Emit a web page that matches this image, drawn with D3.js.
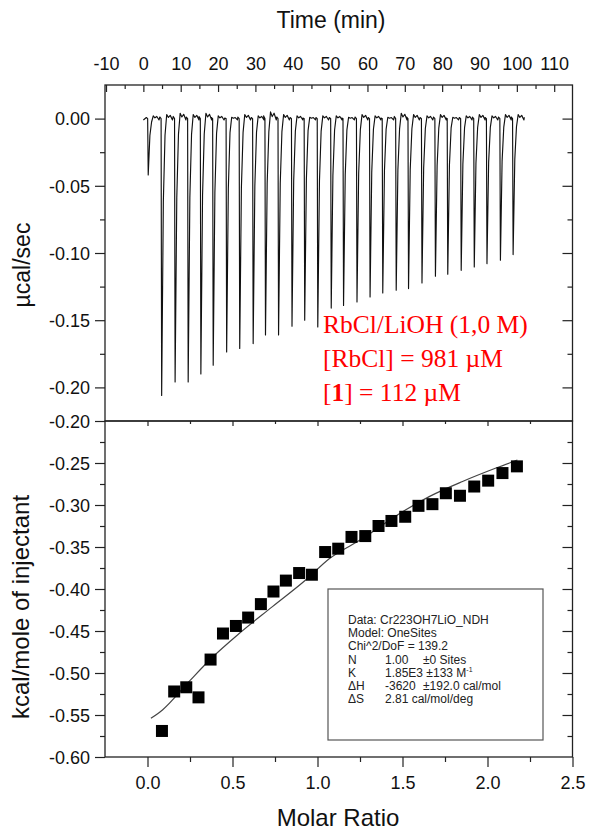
<!DOCTYPE html>
<html>
<head>
<meta charset="utf-8">
<script src="https://cdn.jsdelivr.net/npm/d3@7/dist/d3.min.js"></script>
<style>
  html, body { margin: 0; padding: 0; background: #fff; }
  svg { display: block; }
  text { font-family: "Liberation Sans", Arial, sans-serif; }
</style>
</head>
<body>
<svg id="chart" width="589" height="832"></svg>
<script>
// ---------------- DATA ----------------
// Thermogram: injection times (min) and peak heat-rate minima (µcal/sec)
const injTimes = [1.3, 4.9, 8.5, 12.0, 15.4, 18.7, 22.3, 25.8, 29.4, 32.7, 36.2, 39.8, 43.2, 46.7,
  50.3, 53.6, 57.2, 60.7, 64.1, 67.7, 71.0, 74.6, 78.2, 81.5, 85.1, 88.6, 92.0, 95.6, 99.0];
const peakVals = [-0.042, -0.206, -0.196, -0.196, -0.190, -0.1835, -0.1736, -0.171, -0.1674, -0.161,
  -0.161, -0.1545, -0.150, -0.155, -0.141, -0.139, -0.1364, -0.1327, -0.1297, -0.1277, -0.1265,
  -0.1223, -0.1173, -0.1158, -0.1129, -0.1104, -0.1079, -0.1054, -0.1012];
// small baseline blips after each injection (µcal/sec)
const baseBumps = [0.002, 0.003, 0.004, 0.003, 0.004, 0.002, 0.001, 0.003, 0.002, 0.005, 0.003, 0.002,
  0.001, 0.002, 0.002, 0.001, 0.003, 0.002, 0.001, 0.004, 0.003, 0.002, 0.003, 0.001, 0.002, 0.003,
  0.002, 0.003, 0.003];
const traceStart = 0, traceEnd = 102;

// Integrated heats: molar ratio and kcal/mole of injectant
const molarRatio = [0.085, 0.157, 0.228, 0.300, 0.371, 0.444, 0.520, 0.592, 0.667, 0.741, 0.814, 0.892,
  0.967, 1.045, 1.122, 1.200, 1.281, 1.359, 1.435, 1.516, 1.594, 1.676, 1.755, 1.838, 1.922, 2.004,
  2.088, 2.173];
const heatVals = [-0.569, -0.522, -0.517, -0.529, -0.484, -0.453, -0.444, -0.434, -0.418, -0.403, -0.390,
  -0.381, -0.383, -0.356, -0.352, -0.338, -0.337, -0.325, -0.319, -0.314, -0.301, -0.299, -0.286,
  -0.289, -0.278, -0.271, -0.262, -0.254];

// Fit curve
const fitRatio = [0.02, 0.088, 0.245, 0.373, 0.539, 0.735, 0.932, 1.069, 1.265, 1.461, 1.657, 1.853, 2.05, 2.176];
const fitVals  = [-0.554, -0.544, -0.510, -0.483, -0.453, -0.421, -0.389, -0.364, -0.340, -0.313, -0.290, -0.272, -0.256, -0.2465];

// Ticks
const timeTicks = [-10, 0, 10, 20, 30, 40, 50, 60, 70, 80, 90, 100, 110];
const timeMinor = [-5, 5, 15, 25, 35, 45, 55, 65, 75, 85, 95, 105];
const rateTicks = [0, -0.05, -0.10, -0.15, -0.20, -0.225];
const rateLabels = ["0.00", "-0.05", "-0.10", "-0.15", "-0.20", "-0.20"];
const rateMinor = [-0.025, -0.075, -0.125, -0.175];
const heatTicks = [-0.25, -0.30, -0.35, -0.40, -0.45, -0.50, -0.55, -0.60];
const heatLabels = ["-0.25", "-0.30", "-0.35", "-0.40", "-0.45", "-0.50", "-0.55", "-0.60"];
const heatMinor = [-0.225, -0.275, -0.325, -0.375, -0.425, -0.475, -0.525, -0.575];
const ratioTicks = [0, 0.5, 1.0, 1.5, 2.0, 2.5];
const ratioLabels = ["0.0", "0.5", "1.0", "1.5", "2.0", "2.5"];
const ratioMinor = [0.25, 0.75, 1.25, 1.75, 2.25];

const annotLines = ["RbCl/LiOH (1,0 M)", "[RbCl] = 981 µM"];
const fitInfo = [
  ["Data: Cr223OH7LiO_NDH"],
  ["Model: OneSites"],
  ["Chi^2/DoF = 139.2"],
  ["N", "1.00", "±0 Sites"],
  ["K", "1.85E3 ±133 M", ""],
  ["ΔH", "-3620", "±192.0 cal/mol"],
  ["ΔS", "2.81 cal/mol/deg", ""]
];

// ---------------- LAYOUT ----------------
const svg = d3.select("#chart");
const L = 105, R = 572.5, T = 85, MID = 421, B = 757;

const xT = d3.scaleLinear().domain([-10.27, 114.9]).range([L, R]);
const yT = d3.scaleLinear().domain([-0.225, 0.025]).range([MID, T]);
const xM = d3.scaleLinear().domain([-0.25, 2.5]).range([L, R]);
const yB = d3.scaleLinear().domain([-0.6, -0.2]).range([B, MID]);

const axisColor = "#222";
function styleAxis(g, fs) {
  g.select(".domain").remove();
  g.selectAll(".tick line").attr("stroke", axisColor).attr("stroke-width", 1.2);
  g.selectAll(".tick text").attr("fill", "#111").style("font-size", fs + "px")
    .style("font-family", '"Liberation Sans", Arial, sans-serif');
}

// ---- Top panel: thermogram trace ----
const trace = [[traceStart, -0.001]];
injTimes.forEach((t, i) => {
  const p = peakVals[i], b = baseBumps[i];
  trace.push([t - 0.5, b * 0.4]);
  trace.push([t - 0.15, 0.0]);
  trace.push([t, p]);
  trace.push([t + 0.45, p * 0.3]);
  trace.push([t + 0.9, p * 0.06]);
  trace.push([t + 1.35, b]);
  trace.push([t + 1.8, b * 0.3]);
  trace.push([t + 2.3, b * 0.8]);
  trace.push([t + 2.9, -0.001]);
});
trace.push([traceEnd, 0.001]);

svg.append("path")
  .datum(trace)
  .attr("fill", "none")
  .attr("stroke", "#111")
  .attr("stroke-width", 1.15)
  .attr("stroke-linejoin", "round")
  .attr("d", d3.line().x(d => xT(d[0])).y(d => yT(d[1])));

// ---- Bottom panel: fit curve and points ----
const fitData = fitRatio.map((r, i) => [r, fitVals[i]]);
svg.append("path")
  .datum(fitData)
  .attr("fill", "none")
  .attr("stroke", "#444")
  .attr("stroke-width", 1.2)
  .attr("d", d3.line().curve(d3.curveMonotoneX).x(d => xM(d[0])).y(d => yB(d[1])));

const sq = 12;
svg.append("g").selectAll("rect")
  .data(molarRatio.map((r, i) => [r, heatVals[i]]))
  .join("rect")
  .attr("x", d => xM(d[0]) - sq / 2)
  .attr("y", d => yB(d[1]) - sq / 2)
  .attr("width", sq).attr("height", sq)
  .attr("fill", "#000");

// ---- Axes ----
const fsTick = 18;
// top time axis (inward ticks)
svg.append("g").attr("transform", `translate(0,${T})`)
  .call(d3.axisTop(xT).tickValues(timeTicks).tickSize(-7).tickPadding(15).tickFormat(d => String(d)))
  .call(g => styleAxis(g, fsTick));
svg.append("g").attr("transform", `translate(0,${T})`)
  .call(d3.axisTop(xT).tickValues(timeMinor).tickSize(-4).tickFormat(""))
  .call(g => styleAxis(g, fsTick));

// top panel left axis
svg.append("g").attr("transform", `translate(${L},0)`)
  .call(d3.axisLeft(yT).tickValues(rateTicks).tickSize(10).tickPadding(5)
    .tickFormat((d, i) => rateLabels[i]))
  .call(g => styleAxis(g, fsTick))
  .call(g => g.selectAll(".tick text").attr("dy", "0.35em"));
svg.append("g").attr("transform", `translate(${L},0)`)
  .call(d3.axisLeft(yT).tickValues(rateMinor).tickSize(5).tickFormat(""))
  .call(g => styleAxis(g, fsTick));
// top panel right axis (inward)
svg.append("g").attr("transform", `translate(${R},0)`)
  .call(d3.axisRight(yT).tickValues(rateTicks.slice(0, 5)).tickSize(-10).tickFormat(""))
  .call(g => styleAxis(g, fsTick));
svg.append("g").attr("transform", `translate(${R},0)`)
  .call(d3.axisRight(yT).tickValues(rateMinor).tickSize(-5).tickFormat(""))
  .call(g => styleAxis(g, fsTick));

// bottom panel left axis
svg.append("g").attr("transform", `translate(${L},0)`)
  .call(d3.axisLeft(yB).tickValues(heatTicks).tickSize(10).tickPadding(5)
    .tickFormat((d, i) => heatLabels[i]))
  .call(g => styleAxis(g, fsTick))
  .call(g => g.selectAll(".tick text").attr("dy", "0.35em"));
svg.append("g").attr("transform", `translate(${L},0)`)
  .call(d3.axisLeft(yB).tickValues(heatMinor).tickSize(5).tickFormat(""))
  .call(g => styleAxis(g, fsTick));
// bottom panel right axis (inward)
svg.append("g").attr("transform", `translate(${R},0)`)
  .call(d3.axisRight(yB).tickValues(heatTicks.slice(0, 7)).tickSize(-10).tickFormat(""))
  .call(g => styleAxis(g, fsTick));
svg.append("g").attr("transform", `translate(${R},0)`)
  .call(d3.axisRight(yB).tickValues(heatMinor).tickSize(-5).tickFormat(""))
  .call(g => styleAxis(g, fsTick));

// bottom molar ratio axis
svg.append("g").attr("transform", `translate(0,${B})`)
  .call(d3.axisBottom(xM).tickValues(ratioTicks).tickSize(10).tickPadding(9)
    .tickFormat((d, i) => ratioLabels[i]))
  .call(g => styleAxis(g, fsTick));
svg.append("g").attr("transform", `translate(0,${B})`)
  .call(d3.axisBottom(xM).tickValues(ratioMinor).tickSize(5).tickFormat(""))
  .call(g => styleAxis(g, fsTick));
// inward ticks on top edge of lower panel
svg.append("g").attr("transform", `translate(0,${MID})`)
  .call(d3.axisTop(xM).tickValues(ratioTicks.slice(0, 5)).tickSize(-5).tickFormat(""))
  .call(g => styleAxis(g, fsTick));
svg.append("g").attr("transform", `translate(0,${MID})`)
  .call(d3.axisTop(xM).tickValues(ratioMinor).tickSize(-3).tickFormat(""))
  .call(g => styleAxis(g, fsTick));

// frames
svg.append("rect").attr("x", L).attr("y", T).attr("width", R - L).attr("height", MID - T)
  .attr("fill", "none").attr("stroke", axisColor).attr("stroke-width", 1.3);
svg.append("rect").attr("x", L).attr("y", MID).attr("width", R - L).attr("height", B - MID)
  .attr("fill", "none").attr("stroke", axisColor).attr("stroke-width", 1.3);

// ---- Titles ----
svg.append("text").attr("x", 331).attr("y", 28).attr("text-anchor", "middle")
  .style("font-size", "23px").attr("fill", "#111").text("Time (min)");
svg.append("text").attr("x", 338).attr("y", 826).attr("text-anchor", "middle")
  .style("font-size", "24px").attr("fill", "#111").text("Molar Ratio");
svg.append("text").attr("transform", "translate(30,265) rotate(-90)").attr("text-anchor", "middle")
  .style("font-size", "23px").attr("fill", "#111").text("µcal/sec");
svg.append("text").attr("transform", "translate(29,607) rotate(-90)").attr("text-anchor", "middle")
  .style("font-size", "24px").attr("fill", "#111").text("kcal/mole of injectant");

// ---- Red annotation ----
const serif = '"Liberation Serif", "Times New Roman", serif';
const redFs = "25.5px";
svg.append("text").attr("x", 323).attr("y", 333).style("font-family", serif)
  .style("font-size", redFs).attr("fill", "#ff0000").text(annotLines[0]);
svg.append("text").attr("x", 323).attr("y", 367).style("font-family", serif)
  .style("font-size", redFs).attr("fill", "#ff0000").text(annotLines[1]);
const l3 = svg.append("text").attr("x", 323).attr("y", 401).style("font-family", serif)
  .style("font-size", redFs).attr("fill", "#ff0000");
l3.append("tspan").text("[");
l3.append("tspan").style("font-weight", "bold").text("1");
l3.append("tspan").text("] = 112 µM");

// ---- Fit info box ----
const bx = 328, by = 589, bw = 215, bh = 151;
svg.append("rect").attr("x", bx).attr("y", by).attr("width", bw).attr("height", bh)
  .attr("fill", "#fff").attr("stroke", "#555").attr("stroke-width", 1.2);
const tx = 348, tx2 = 385, tx3 = 423, ty0 = 624, dyL = 13.2, fsInfo = "12px";
fitInfo.forEach((row, i) => {
  const y = ty0 + i * dyL;
  svg.append("text").attr("x", tx).attr("y", y).style("font-size", fsInfo).attr("fill", "#222").text(row[0]);
  if (row.length > 1) {
    const t2 = svg.append("text").attr("x", tx2).attr("y", y).style("font-size", fsInfo).attr("fill", "#222").text(row[1]);
    if (row[0] === "K") {
      t2.append("tspan").attr("dy", -5).style("font-size", "7px").text("-1");
    }
    if (row[2]) {
      svg.append("text").attr("x", tx3).attr("y", y).style("font-size", fsInfo).attr("fill", "#222").text(row[2]);
    }
  }
});
</script>
</body>
</html>
